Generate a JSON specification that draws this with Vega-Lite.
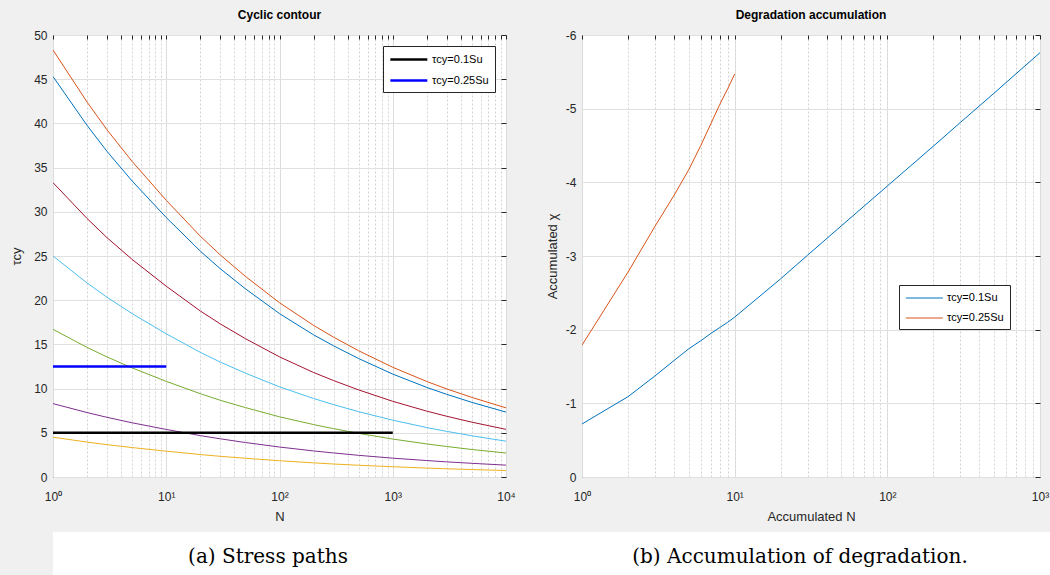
{
  "$schema": "https://vega.github.io/schema/vega-lite/v6.json",
  "background": "#f0f0f0",
  "padding": {"left": 10, "top": 8, "right": 0, "bottom": 0},
  "config": {
    "font": "Liberation Sans",
    "view": {"fill": "white", "stroke": "#262626", "strokeWidth": 1},
    "axis": {
      "labelFont": "Liberation Sans", "labelFontSize": 12, "labelColor": "#262626",
      "titleFont": "Liberation Sans", "titleFontSize": 13, "titleFontWeight": "normal", "titleColor": "#262626",
      "domain": false, "ticks": false, "gridColor": "#e0e0e0", "gridWidth": 1,
      "labelOverlap": false, "labelFlush": false
    },
    "title": {"font": "Liberation Sans", "fontSize": 12, "fontWeight": "bold", "color": "#000000", "offset": 7},
    "legend": {
      "labelFont": "Liberation Sans", "labelFontSize": 11, "labelColor": "#000000",
      "strokeColor": "#262626", "fillColor": "#ffffff", "padding": 6, "rowPadding": 8,
      "symbolType": "M-1,0H5", "symbolSize": 152, "labelOffset": 28, "title": null
    }
  },
  "datasets": {
    "paths": [
      {"N":1,"tau":45.3,"curve":"c1"},{"N":2,"tau":39.77,"curve":"c1"},{"N":3,"tau":36.83,"curve":"c1"},{"N":5,"tau":33.48,"curve":"c1"},{"N":10,"tau":29.35,"curve":"c1"},{"N":20,"tau":25.55,"curve":"c1"},{"N":30,"tau":23.56,"curve":"c1"},{"N":50,"tau":21.29,"curve":"c1"},{"N":100,"tau":18.48,"curve":"c1"},{"N":200,"tau":16.08,"curve":"c1"},{"N":300,"tau":14.84,"curve":"c1"},{"N":500,"tau":13.40,"curve":"c1"},{"N":1000,"tau":11.64,"curve":"c1"},{"N":2000,"tau":10.13,"curve":"c1"},{"N":3000,"tau":9.35,"curve":"c1"},{"N":5000,"tau":8.44,"curve":"c1"},{"N":10000,"tau":7.34,"curve":"c1"},
      {"N":1,"tau":48.3,"curve":"c2"},{"N":2,"tau":42.41,"curve":"c2"},{"N":3,"tau":39.27,"curve":"c2"},{"N":5,"tau":35.69,"curve":"c2"},{"N":10,"tau":31.30,"curve":"c2"},{"N":20,"tau":27.24,"curve":"c2"},{"N":30,"tau":25.12,"curve":"c2"},{"N":50,"tau":22.70,"curve":"c2"},{"N":100,"tau":19.71,"curve":"c2"},{"N":200,"tau":17.15,"curve":"c2"},{"N":300,"tau":15.82,"curve":"c2"},{"N":500,"tau":14.28,"curve":"c2"},{"N":1000,"tau":12.41,"curve":"c2"},{"N":2000,"tau":10.80,"curve":"c2"},{"N":3000,"tau":9.96,"curve":"c2"},{"N":5000,"tau":9.00,"curve":"c2"},{"N":10000,"tau":7.82,"curve":"c2"},
      {"N":1,"tau":4.5,"curve":"c3"},{"N":2,"tau":3.95,"curve":"c3"},{"N":3,"tau":3.66,"curve":"c3"},{"N":5,"tau":3.33,"curve":"c3"},{"N":10,"tau":2.92,"curve":"c3"},{"N":20,"tau":2.54,"curve":"c3"},{"N":30,"tau":2.34,"curve":"c3"},{"N":50,"tau":2.12,"curve":"c3"},{"N":100,"tau":1.84,"curve":"c3"},{"N":200,"tau":1.60,"curve":"c3"},{"N":300,"tau":1.47,"curve":"c3"},{"N":500,"tau":1.33,"curve":"c3"},{"N":1000,"tau":1.16,"curve":"c3"},{"N":2000,"tau":1.01,"curve":"c3"},{"N":3000,"tau":0.93,"curve":"c3"},{"N":5000,"tau":0.84,"curve":"c3"},{"N":10000,"tau":0.73,"curve":"c3"},
      {"N":1,"tau":8.3,"curve":"c4"},{"N":2,"tau":7.29,"curve":"c4"},{"N":3,"tau":6.75,"curve":"c4"},{"N":5,"tau":6.13,"curve":"c4"},{"N":10,"tau":5.38,"curve":"c4"},{"N":20,"tau":4.68,"curve":"c4"},{"N":30,"tau":4.32,"curve":"c4"},{"N":50,"tau":3.90,"curve":"c4"},{"N":100,"tau":3.39,"curve":"c4"},{"N":200,"tau":2.95,"curve":"c4"},{"N":300,"tau":2.72,"curve":"c4"},{"N":500,"tau":2.45,"curve":"c4"},{"N":1000,"tau":2.13,"curve":"c4"},{"N":2000,"tau":1.86,"curve":"c4"},{"N":3000,"tau":1.71,"curve":"c4"},{"N":5000,"tau":1.55,"curve":"c4"},{"N":10000,"tau":1.34,"curve":"c4"},
      {"N":1,"tau":16.7,"curve":"c5"},{"N":2,"tau":14.66,"curve":"c5"},{"N":3,"tau":13.58,"curve":"c5"},{"N":5,"tau":12.34,"curve":"c5"},{"N":10,"tau":10.82,"curve":"c5"},{"N":20,"tau":9.42,"curve":"c5"},{"N":30,"tau":8.68,"curve":"c5"},{"N":50,"tau":7.85,"curve":"c5"},{"N":100,"tau":6.81,"curve":"c5"},{"N":200,"tau":5.93,"curve":"c5"},{"N":300,"tau":5.47,"curve":"c5"},{"N":500,"tau":4.94,"curve":"c5"},{"N":1000,"tau":4.29,"curve":"c5"},{"N":2000,"tau":3.74,"curve":"c5"},{"N":3000,"tau":3.45,"curve":"c5"},{"N":5000,"tau":3.11,"curve":"c5"},{"N":10000,"tau":2.71,"curve":"c5"},
      {"N":1,"tau":25.0,"curve":"c6"},{"N":2,"tau":21.95,"curve":"c6"},{"N":3,"tau":20.33,"curve":"c6"},{"N":5,"tau":18.48,"curve":"c6"},{"N":10,"tau":16.20,"curve":"c6"},{"N":20,"tau":14.10,"curve":"c6"},{"N":30,"tau":13.00,"curve":"c6"},{"N":50,"tau":11.75,"curve":"c6"},{"N":100,"tau":10.20,"curve":"c6"},{"N":200,"tau":8.88,"curve":"c6"},{"N":300,"tau":8.19,"curve":"c6"},{"N":500,"tau":7.39,"curve":"c6"},{"N":1000,"tau":6.43,"curve":"c6"},{"N":2000,"tau":5.59,"curve":"c6"},{"N":3000,"tau":5.16,"curve":"c6"},{"N":5000,"tau":4.66,"curve":"c6"},{"N":10000,"tau":4.05,"curve":"c6"},
      {"N":1,"tau":33.3,"curve":"c7"},{"N":2,"tau":29.24,"curve":"c7"},{"N":3,"tau":27.07,"curve":"c7"},{"N":5,"tau":24.61,"curve":"c7"},{"N":10,"tau":21.58,"curve":"c7"},{"N":20,"tau":18.78,"curve":"c7"},{"N":30,"tau":17.32,"curve":"c7"},{"N":50,"tau":15.65,"curve":"c7"},{"N":100,"tau":13.59,"curve":"c7"},{"N":200,"tau":11.82,"curve":"c7"},{"N":300,"tau":10.91,"curve":"c7"},{"N":500,"tau":9.85,"curve":"c7"},{"N":1000,"tau":8.56,"curve":"c7"},{"N":2000,"tau":7.45,"curve":"c7"},{"N":3000,"tau":6.87,"curve":"c7"},{"N":5000,"tau":6.20,"curve":"c7"},{"N":10000,"tau":5.39,"curve":"c7"}
    ],
    "limits": [
      {"N":1,"tau":5,"case":"τcy=0.1Su"},{"N":1000,"tau":5,"case":"τcy=0.1Su"},
      {"N":1,"tau":12.5,"case":"τcy=0.25Su"},{"N":10,"tau":12.5,"case":"τcy=0.25Su"}
    ],
    "degradation": [
      {"N":1,"chi":-0.72,"case":"τcy=0.1Su"},{"N":2,"chi":-1.09,"case":"τcy=0.1Su"},{"N":3,"chi":-1.37,"case":"τcy=0.1Su"},{"N":4,"chi":-1.58,"case":"τcy=0.1Su"},{"N":5,"chi":-1.74,"case":"τcy=0.1Su"},{"N":6,"chi":-1.85,"case":"τcy=0.1Su"},{"N":7,"chi":-1.95,"case":"τcy=0.1Su"},{"N":8,"chi":-2.03,"case":"τcy=0.1Su"},{"N":9,"chi":-2.10,"case":"τcy=0.1Su"},{"N":10,"chi":-2.17,"case":"τcy=0.1Su"},{"N":20,"chi":-2.69,"case":"τcy=0.1Su"},{"N":30,"chi":-3.01,"case":"τcy=0.1Su"},{"N":50,"chi":-3.41,"case":"τcy=0.1Su"},{"N":100,"chi":-3.95,"case":"τcy=0.1Su"},{"N":200,"chi":-4.49,"case":"τcy=0.1Su"},{"N":300,"chi":-4.81,"case":"τcy=0.1Su"},{"N":500,"chi":-5.21,"case":"τcy=0.1Su"},{"N":1000,"chi":-5.76,"case":"τcy=0.1Su"},
      {"N":1,"chi":-1.79,"case":"τcy=0.25Su"},{"N":2,"chi":-2.78,"case":"τcy=0.25Su"},{"N":3,"chi":-3.40,"case":"τcy=0.25Su"},{"N":4,"chi":-3.82,"case":"τcy=0.25Su"},{"N":5,"chi":-4.17,"case":"τcy=0.25Su"},{"N":6,"chi":-4.50,"case":"τcy=0.25Su"},{"N":7,"chi":-4.80,"case":"τcy=0.25Su"},{"N":8,"chi":-5.06,"case":"τcy=0.25Su"},{"N":9,"chi":-5.27,"case":"τcy=0.25Su"},{"N":10,"chi":-5.47,"case":"τcy=0.25Su"}
    ],
    "captions": [
      {"panel":"a","caption":"(a) Stress paths"},
      {"panel":"b","caption":"(b) Accumulation of degradation."}
    ]
  },
  "vconcat": [
    {
      "hconcat": [
        {
          "width": 453, "height": 442,
          "title": "Cyclic contour",
          "layer": [
            {
              "data": {"name": "paths"},
              "mark": {"type": "line", "strokeWidth": 1, "clip": true},
              "encoding": {
                "x": {"field": "N", "type": "quantitative", "scale": {"type": "log", "domain": [1, 10000], "nice": false},
                  "axis": {"orient": "bottom", "title": "N", "titlePadding": 8, "labelPadding": 14,
                    "values": [1,2,3,4,5,6,7,8,9,10,20,30,40,50,60,70,80,90,100,200,300,400,500,600,700,800,900,1000,2000,3000,4000,5000,6000,7000,8000,9000,10000],
                    "labelExpr": "datum.value == 1 ? '10⁰' : datum.value == 10 ? '10¹' : datum.value == 100 ? '10²' : datum.value == 1000 ? '10³' : datum.value == 10000 ? '10⁴' : ''",
                    "grid": true,
                    "gridDash": {"condition": {"test": "indexof([1,10,100,1000,10000], datum.value) >= 0", "value": []}, "value": [2, 2]},
                    "gridColor": {"condition": {"test": "indexof([1,10,100,1000,10000], datum.value) >= 0", "value": "#dcdcdc"}, "value": "#d2d2d2"}
                  }},
                "y": {"field": "tau", "type": "quantitative", "scale": {"domain": [0, 50], "nice": false},
                  "axis": {"orient": "left", "title": "τcy", "values": [0,5,10,15,20,25,30,35,40,45,50], "labelPadding": 6, "titlePadding": 10, "grid": true}},
                "color": {"field": "curve", "type": "nominal",
                  "scale": {"domain": ["c1","c2","c3","c4","c5","c6","c7"], "range": ["#0072BD","#D95319","#EDB120","#7E2F8E","#77AC30","#4DBEEE","#A2142F"]},
                  "legend": null}
              }
            },
            {
              "data": {"name": "limits"},
              "mark": {"type": "line", "strokeWidth": 2.5},
              "encoding": {
                "x": {"field": "N", "type": "quantitative", "scale": {"type": "log", "domain": [1, 10000], "nice": false},
                  "axis": {"orient": "top", "title": null, "labels": false, "grid": false, "ticks": true, "tickSize": -4, "tickColor": "#262626",
                    "values": [1,2,3,4,5,6,7,8,9,10,20,30,40,50,60,70,80,90,100,200,300,400,500,600,700,800,900,1000,2000,3000,4000,5000,6000,7000,8000,9000,10000]}},
                "y": {"field": "tau", "type": "quantitative", "scale": {"domain": [0, 50], "nice": false},
                  "axis": {"orient": "right", "title": null, "labels": false, "grid": false, "ticks": true, "tickSize": -5, "tickColor": "#262626", "minExtent": 0,
                    "values": [0,5,10,15,20,25,30,35,40,45,50]}},
                "color": {"field": "case", "type": "nominal",
                  "scale": {"domain": ["τcy=0.1Su", "τcy=0.25Su"], "range": ["#000000", "#0000ff"]},
                  "legend": {"orient": "top-right", "offset": 11, "symbolStrokeWidth": 2.5}}
              }
            }
          ],
          "resolve": {"scale": {"color": "independent"}, "axis": {"x": "independent", "y": "independent"}}
        },
        {
          "width": 458, "height": 442,
          "title": "Degradation accumulation",
          "layer": [
            {
              "data": {"name": "degradation"},
              "mark": {"type": "line", "strokeWidth": 1, "clip": true},
              "encoding": {
                "x": {"field": "N", "type": "quantitative", "scale": {"type": "log", "domain": [1, 1000], "nice": false},
                  "axis": {"orient": "bottom", "title": "Accumulated N", "titlePadding": 8, "labelPadding": 14,
                    "values": [1,2,3,4,5,6,7,8,9,10,20,30,40,50,60,70,80,90,100,200,300,400,500,600,700,800,900,1000],
                    "labelExpr": "datum.value == 1 ? '10⁰' : datum.value == 10 ? '10¹' : datum.value == 100 ? '10²' : datum.value == 1000 ? '10³' : ''",
                    "grid": true,
                    "gridDash": {"condition": {"test": "indexof([1,10,100,1000], datum.value) >= 0", "value": []}, "value": [2, 2]},
                    "gridColor": {"condition": {"test": "indexof([1,10,100,1000], datum.value) >= 0", "value": "#dcdcdc"}, "value": "#d2d2d2"}
                  }},
                "y": {"field": "chi", "type": "quantitative", "scale": {"domain": [0, -6], "nice": false, "zero": false},
                  "axis": {"orient": "left", "title": "Accumulated χ", "values": [0,-1,-2,-3,-4,-5,-6], "labelPadding": 6, "titlePadding": 6, "grid": true,
                    "labelExpr": "datum.value == 0 ? '0' : '-' + abs(datum.value)"}},
                "color": {"field": "case", "type": "nominal",
                  "scale": {"domain": ["τcy=0.1Su", "τcy=0.25Su"], "range": ["#0072BD", "#D95319"]},
                  "legend": {"orient": "none", "legendX": 846, "legendY": 250, "symbolStrokeWidth": 1}}
              }
            },
            {
              "data": {"name": "degradation"},
              "mark": {"type": "line", "strokeWidth": 0, "opacity": 0},
              "encoding": {
                "x": {"field": "N", "type": "quantitative", "scale": {"type": "log", "domain": [1, 1000], "nice": false},
                  "axis": {"orient": "top", "title": null, "labels": false, "grid": false, "ticks": true, "tickSize": -4, "tickColor": "#262626",
                    "values": [1,2,3,4,5,6,7,8,9,10,20,30,40,50,60,70,80,90,100,200,300,400,500,600,700,800,900,1000]}},
                "y": {"field": "chi", "type": "quantitative", "scale": {"domain": [0, -6], "nice": false, "zero": false},
                  "axis": {"orient": "right", "title": null, "labels": false, "grid": false, "ticks": true, "tickSize": -5, "tickColor": "#262626", "minExtent": 0,
                    "values": [0,-1,-2,-3,-4,-5,-6]}},
                "detail": {"field": "case"}
              }
            }
          ],
          "resolve": {"axis": {"x": "independent", "y": "independent"}}
        }
      ],
      "spacing": 29
    },
    {
      "width": 997, "height": 43,
      "view": {"fill": "#ffffff", "stroke": null},
      "data": {"name": "captions"},
      "mark": {"type": "text", "font": "DejaVu Serif", "fontSize": 20, "color": "#000000", "dy": 3},
      "encoding": {
        "x": {"field": "panel", "type": "nominal", "scale": {"type": "point", "padding": 0.437, "align": 0.4624}, "axis": null},
        "text": {"field": "caption"}
      }
    }
  ],
  "spacing": 8
}
